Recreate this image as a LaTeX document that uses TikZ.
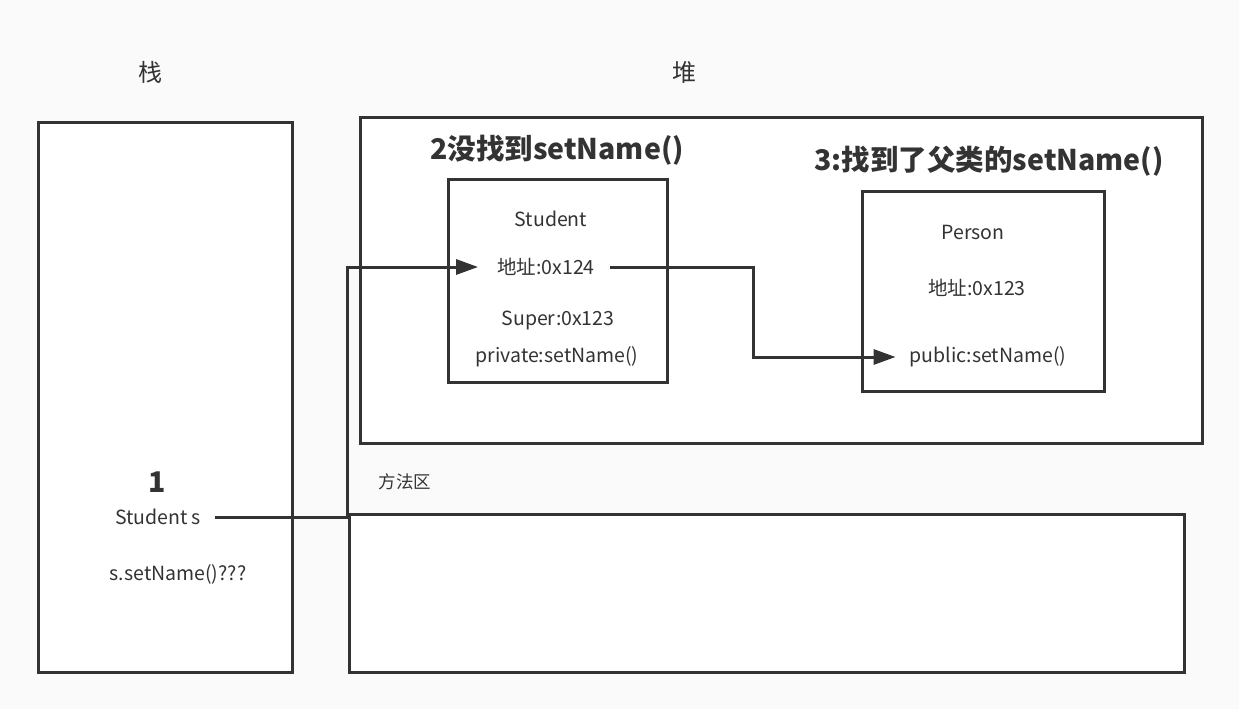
\documentclass[tikz,border=0pt]{standalone}
\usepackage{fontspec}
\setmainfont{Noto Sans CJK SC}
\usetikzlibrary{arrows.meta}
\definecolor{bgc}{HTML}{FAFAFA}
\definecolor{ink}{HTML}{333333}
\begin{document}
\begin{tikzpicture}[x=1pt,y=-1pt,
  box/.style={draw=ink,line width=2.8pt,fill=white,inner sep=0pt,anchor=north west},
  txt/.style={text=ink,font=\fontsize{19.5}{23}\selectfont,inner sep=0pt},
  small/.style={text=ink,font=\fontsize{17.5}{20}\selectfont,inner sep=0pt},
  big/.style={text=ink,font=\fontsize{24}{28}\selectfont,inner sep=0pt},
  title/.style={text=ink,font=\fontsize{28.5}{32}\selectfont\bfseries,inner sep=0pt},
  conn/.style={draw=ink,line width=3pt},
  arr/.style={conn,-{Triangle[length=22pt,width=15pt]}}]
\useasboundingbox (0,0) rectangle (1239,709);
\fill[bgc] (0,0) rectangle (1239,709);
% regions
\node[box,minimum width=254pt,minimum height=550pt] (stack) at (37,121) {};
\node[box,minimum width=842pt,minimum height=326pt] (heap) at (359,116) {};
\node[box,minimum width=835pt,minimum height=158pt] (method) at (348,513) {};
\node[big] (stackl) at (150,72) {栈};
\node[big] (heapl) at (684,72) {堆};
\node[small] (methodl) at (405,482) {方法区};
% Student object
\node[box,minimum width=219pt,minimum height=203pt] (stud) at (447,178) {};
\node[title] (t2) at (557,150) {2没找到setName()};
\node[txt] (sname) at (551,219) {Student};
\node[txt] (addr1) at (546,267) {地址:0x124};
\node[txt] (super) at (558,320) {Super:0x123};
\node[txt] (priv) at (557,357) {private:setName()};
% Person object
\node[box,minimum width=242pt,minimum height=200pt] (pers) at (861,190) {};
\node[title] (t3) at (989,161) {3:找到了父类的setName()};
\node[txt] (pname) at (973,232) {Person};
\node[txt] (addr2) at (977,288) {地址:0x123};
\node[txt] (pub) at (988,357) {public:setName()};
% stack contents
\node[title] (one) at (157,482) {1};
\node[txt] (studs) at (158,517) {Student s};
\node[txt] (call) at (178,574) {s.setName()???};
% connectors
\coordinate (j1) at (347,517);
\coordinate (j2) at (753,267);
\draw[arr] ([xshift=14pt]studs.east) -- (j1) |- ([xshift=-19pt]addr1.west);
\draw[arr] ([xshift=15pt]addr1.east) -- (j2) |- ([xshift=-14pt]pub.west);
\end{tikzpicture}
\end{document}
